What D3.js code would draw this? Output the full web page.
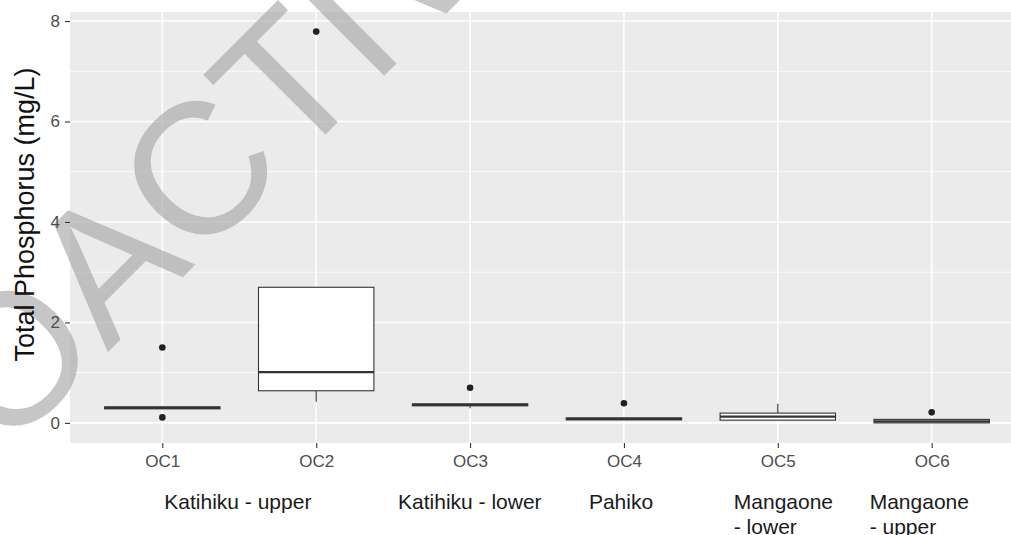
<!DOCTYPE html>
<html>
<head>
<meta charset="utf-8">
<script src="https://cdn.jsdelivr.net/npm/d3@7"></script>
<style>
  body { margin: 0; background: #fff; }
  svg { display: block; font-family: 'Liberation Sans', Arial, sans-serif; }
</style>
</head>
<body>
<div id="chart"></div>
<script>
// site codes on the x axis
const sites = ['OC1', 'OC2', 'OC3', 'OC4', 'OC5', 'OC6'];

// box statistics per site (mg/L)
const lowerWhisker = [0.28, 0.42, 0.29, 0.06, 0.055, 0.0];
const q1 = [0.28, 0.64, 0.34, 0.06, 0.055, 0.0];
const median = [0.30, 1.01, 0.36, 0.08, 0.125, 0.03];
const q3 = [0.32, 2.70, 0.38, 0.10, 0.195, 0.07];
const upperWhisker = [0.32, 2.70, 0.38, 0.10, 0.38, 0.07];
const outliers = [[1.50, 0.11], [7.79], [0.70], [0.39], [], [0.21]];

const yTicks = [0, 2, 4, 6, 8];
const yMinor = [1, 3, 5, 7];

// stream names typed under the axis
const streamNames = [
  ['Katihiku - upper'],
  ['Katihiku - lower'],
  ['Pahiko'],
  ['Mangaone', '- lower'],
  ['Mangaone', '- upper']
];
const streamSites = ['OC1', 'OC3', 'OC4', 'OC5', 'OC6'];

const W = 1011, H = 535;
const panel = { left: 70, top: 12, right: 1024, bottom: 443 };

const svg = d3.select('#chart').append('svg').attr('width', W).attr('height', H);

const x = d3.scalePoint().domain(sites).range([panel.left, panel.right]).padding(0.6);
const y = d3.scaleLinear().domain([-0.4, 8.18]).range([panel.bottom, panel.top]);
const boxW = x.step() * 0.75;

// panel background + grid
svg.append('rect')
  .attr('x', panel.left).attr('y', panel.top)
  .attr('width', panel.right - panel.left).attr('height', panel.bottom - panel.top)
  .attr('fill', '#ebebeb');

svg.append('g').selectAll('line').data(yMinor).join('line')
  .attr('x1', panel.left).attr('x2', panel.right)
  .attr('y1', (d) => y(d)).attr('y2', (d) => y(d))
  .attr('stroke', '#fff').attr('stroke-width', 0.8);

svg.append('g').selectAll('line').data(yTicks).join('line')
  .attr('x1', panel.left).attr('x2', panel.right)
  .attr('y1', (d) => y(d)).attr('y2', (d) => y(d))
  .attr('stroke', '#fff').attr('stroke-width', 1.6);

svg.append('g').selectAll('line').data(sites).join('line')
  .attr('x1', (d) => x(d)).attr('x2', (d) => x(d))
  .attr('y1', panel.top).attr('y2', panel.bottom)
  .attr('stroke', '#fff').attr('stroke-width', 1.6);

// watermark
svg.append('text')
  .attr('transform', 'translate(-179,639) rotate(-45)')
  .attr('font-size', 187)
  .attr('fill', '#a8a8a8')
  .attr('opacity', 0.65)
  .text('PROACTIVELY RELEASED');

// axes
const yAxis = svg.append('g')
  .attr('transform', `translate(${panel.left},0)`)
  .call(d3.axisLeft(y).tickValues(yTicks).tickSize(5).tickPadding(5));
const xAxis = svg.append('g')
  .attr('transform', `translate(0,${panel.bottom})`)
  .call(d3.axisBottom(x).tickSize(5).tickPadding(7));

[yAxis, xAxis].forEach((g) => {
  g.select('.domain').remove();
  g.selectAll('.tick line').attr('stroke', '#333').attr('stroke-width', 1.1);
  g.selectAll('.tick text').attr('fill', '#4d4d4d').attr('font-size', 17)
    .attr('font-family', "'Liberation Sans', Arial, sans-serif");
});

svg.append('text')
  .attr('transform', `translate(34,${(panel.top + panel.bottom) / 2 - 13}) rotate(-90)`)
  .attr('text-anchor', 'middle')
  .attr('font-size', 27)
  .attr('fill', '#111')
  .text('Total Phosphorus (mg/L)');

// boxplots
const boxes = svg.append('g').selectAll('g').data(sites).join('g');

boxes.append('line')
  .attr('x1', (d) => x(d)).attr('x2', (d) => x(d))
  .attr('y1', (d, i) => y(upperWhisker[i])).attr('y2', (d, i) => y(q3[i]))
  .attr('stroke', '#333').attr('stroke-width', 1.1);
boxes.append('line')
  .attr('x1', (d) => x(d)).attr('x2', (d) => x(d))
  .attr('y1', (d, i) => y(q1[i])).attr('y2', (d, i) => y(lowerWhisker[i]))
  .attr('stroke', '#333').attr('stroke-width', 1.1);
boxes.append('rect')
  .attr('x', (d) => x(d) - boxW / 2)
  .attr('y', (d, i) => y(q3[i]))
  .attr('width', boxW)
  .attr('height', (d, i) => y(q1[i]) - y(q3[i]))
  .attr('fill', '#fff').attr('stroke', '#333').attr('stroke-width', 1.1);
boxes.append('line')
  .attr('x1', (d) => x(d) - boxW / 2).attr('x2', (d) => x(d) + boxW / 2)
  .attr('y1', (d, i) => y(median[i])).attr('y2', (d, i) => y(median[i]))
  .attr('stroke', '#333').attr('stroke-width', 2.2);

boxes.selectAll('circle')
  .data((d, i) => outliers[i].map((v) => ({ site: d, v })))
  .join('circle')
  .attr('cx', (d) => x(d.site)).attr('cy', (d) => y(d.v))
  .attr('r', 3.3).attr('fill', '#222');

// stream names under the site codes
const nameDx = [2, -72, -35, -44, -62];
const names = svg.append('g').selectAll('text').data(streamNames).join('text')
  .attr('x', (d, i) => x(streamSites[i]) + nameDx[i])
  .attr('y', 509)
  .attr('font-size', 21)
  .attr('fill', '#1a1a1a');
names.selectAll('tspan').data((d) => d).join('tspan')
  .attr('x', function () { return this.parentNode.getAttribute('x'); })
  .attr('dy', (d, i) => (i === 0 ? 0 : 25))
  .text((d) => d);
</script>
</body>
</html>
